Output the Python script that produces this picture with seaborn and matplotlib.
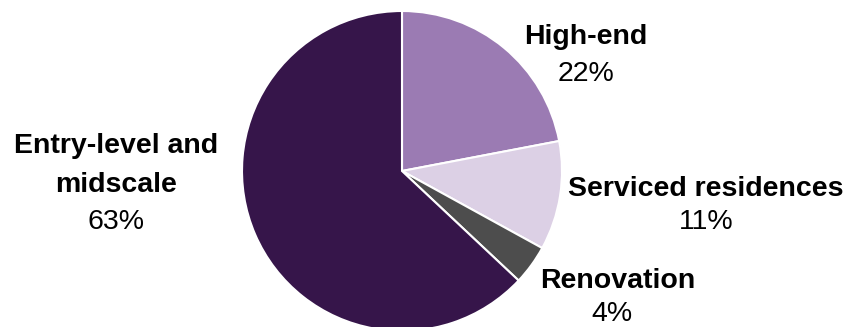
import matplotlib
matplotlib.use("Agg")
import matplotlib.pyplot as plt
import seaborn as sns

# Segment shares (percent), drawn clockwise from 12 o'clock
segments = ["High-end", "Serviced residences", "Renovation", "Entry-level and\nmidscale"]
shares = [22, 11, 4, 63]
colors = ["#9B7BB3", "#DCD0E5", "#4D4D4D", "#36154A"]

sns.set_theme(style="white")
plt.rcParams["font.family"] = ["Liberation Sans", "DejaVu Sans"]

W, H = 855, 327
fig = plt.figure(figsize=(W / 100, H / 100), dpi=100)

# pie centre and radius in pixels
cx, cy, r = 402, 171, 160
ax = fig.add_axes([(cx - r) / W, (H - cy - r) / H, 2 * r / W, 2 * r / H])
ax.pie(shares, colors=colors, startangle=90, counterclock=False,
       wedgeprops=dict(edgecolor="white", linewidth=1.5))
ax.set_xlim(-1, 1)
ax.set_ylim(-1, 1)
ax.set_aspect("equal")
ax.axis("off")

def px(x, y):
    return ((x - cx) / r, (cy - y) / r)

# label placement: pixel centres of each name line, then the percentage
label_pos = [
    ([(586, 37)], (586, 74)),
    ([(706, 189)], (706, 222)),
    ([(618, 281)], (612, 314)),
    ([(116, 146), (116, 185)], (116, 222)),
]
fs = 20.5
for name, val, (npos, ppos) in zip(segments, shares, label_pos):
    for line, pos in zip(name.split("\n"), npos):
        ax.text(*px(*pos), line, ha="center", va="center", fontsize=fs,
                fontweight="bold", color="black", clip_on=False)
    ax.text(*px(*ppos), f"{val}%", ha="center", va="center", fontsize=fs,
            color="black", clip_on=False)

fig.savefig("out.png", dpi=100)
